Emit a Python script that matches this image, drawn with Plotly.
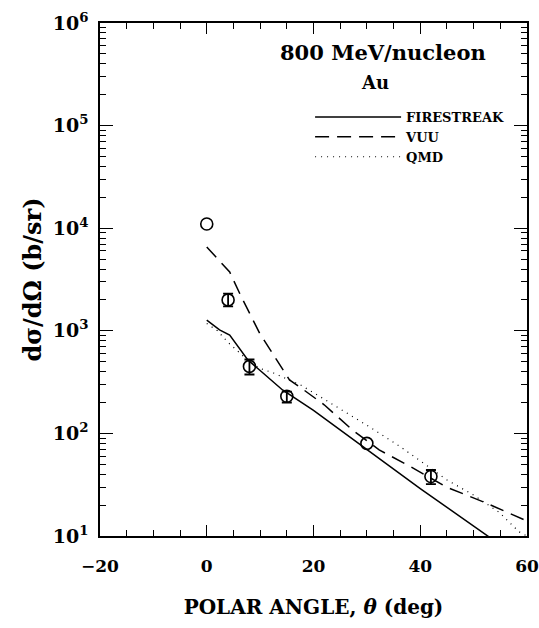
import plotly.graph_objects as go

# Data
angle = [0, 4, 8, 15, 30, 42]
xsec = [11000, 2000, 450, 230, 80, 38]
err_up = [None, 300, 75, 25, None, 6]
err_dn = [None, 270, 75, 30, None, 6]

fire_x = [0, 2.4, 4.3, 6, 7.7, 10, 14.2, 20, 30, 40, 53]
fire_y = [1270, 1020, 910, 690, 520, 410, 265, 168, 70, 29, 9.7]

vuu_x = [0, 4.3, 6.5, 9.9, 13.1, 15.5, 17.4, 22, 27.3, 32.3, 38, 44.9, 52.3, 58.5, 60]
vuu_y = [6570, 3740, 2130, 950, 520, 332, 284, 190, 108, 69, 48, 30, 21, 15.3, 14]

qmd_x = [0, 2, 4, 6.3, 8, 10, 12.5, 15, 17.6, 21.3, 26.4, 30, 36.3, 44.9, 50, 54.8, 58.5, 60]
qmd_y = [1180, 1000, 770, 600, 500, 430, 388, 340, 296, 227, 158, 120, 74, 35.5, 25, 17, 11, 10]

ytickvals = [10, 100, 1000, 1e4, 1e5, 1e6]
yticktext = ["<b>10<sup>1</sup></b>", "<b>10<sup>2</sup></b>", "<b>10<sup>3</sup></b>",
             "<b>10<sup>4</sup></b>", "<b>10<sup>5</sup></b>", "<b>10<sup>6</sup></b>"]
xtickvals = [-20, 0, 20, 40, 60]
xticktext = ["<b>\u221220</b>", "<b>0</b>", "<b>20</b>", "<b>40</b>", "<b>60</b>"]

FONT = "DejaVu Serif"

# split measured points into those with and without error bars
with_err = [i for i in range(len(angle)) if err_up[i] is not None]
no_err = [i for i in range(len(angle)) if err_up[i] is None]

marker_style = dict(symbol="circle-open", size=12, color="black",
                    line=dict(width=1.6, color="black"))

fig = go.Figure()
fig.add_trace(go.Scatter(x=fire_x, y=fire_y, mode="lines", name="<b>FIRESTREAK</b>",
                         line=dict(color="black", width=1.5, dash="solid")))
fig.add_trace(go.Scatter(x=vuu_x, y=vuu_y, mode="lines", name="<b>VUU</b>",
                         line=dict(color="black", width=1.5, dash="14px,8px")))
fig.add_trace(go.Scatter(x=qmd_x, y=qmd_y, mode="lines", name="<b>QMD</b>",
                         line=dict(color="black", width=1.2, dash="1px,5px")))
fig.add_trace(go.Scatter(x=[angle[i] for i in with_err], y=[xsec[i] for i in with_err],
                         mode="markers", showlegend=False, marker=marker_style,
                         error_y=dict(type="data",
                                      array=[err_up[i] for i in with_err],
                                      arrayminus=[err_dn[i] for i in with_err],
                                      color="black", thickness=1.8, width=5)))
fig.add_trace(go.Scatter(x=[angle[i] for i in no_err], y=[xsec[i] for i in no_err],
                         mode="markers", showlegend=False, marker=marker_style))

fig.add_annotation(x=33.1, y=5.717, text="<b>800 MeV/nucleon</b>", showarrow=False,
                   font=dict(family=FONT, size=21, color="black"))
fig.add_annotation(x=31.6, y=5.425, text="<b>Au</b>", showarrow=False,
                   font=dict(family=FONT, size=18, color="black"))

fig.update_xaxes(range=[-20, 60], tickvals=xtickvals, ticktext=xticktext,
                 ticks="inside", ticklen=11, tickwidth=1.2, tickcolor="black",
                 minor=dict(ticks="inside", dtick=5, ticklen=6, tickwidth=1.2, tickcolor="black"),
                 showline=True, linecolor="black", linewidth=1.5, mirror="allticks",
                 showgrid=False, zeroline=False, automargin=False, ticklabelstandoff=14,
                 tickfont=dict(family=FONT, size=17, color="black"),
                 title=dict(text="<b>POLAR ANGLE, <i>\u03b8</i> (deg)</b>", standoff=25,
                            font=dict(family=FONT, size=20, color="black")))
fig.update_yaxes(type="log", range=[1, 6], tickvals=ytickvals, ticktext=yticktext,
                 ticks="inside", ticklen=13, tickwidth=1.2, tickcolor="black",
                 minor=dict(ticks="inside", dtick="D1", ticklen=6, tickwidth=1.2, tickcolor="black"),
                 showline=True, linecolor="black", linewidth=1.5, mirror="allticks",
                 showgrid=False, zeroline=False, automargin=False, ticklabelstandoff=6,
                 tickfont=dict(family=FONT, size=19, color="black"),
                 title=dict(text="<b>d\u03c3/d\u03a9 (b/sr)</b>", standoff=4,
                            font=dict(family=FONT, size=24, color="black")))

fig.update_layout(width=539, height=628, paper_bgcolor="white", plot_bgcolor="white",
                  margin=dict(l=100, r=12, t=23, b=92, autoexpand=False),
                  showlegend=True,
                  legend=dict(x=0.492, y=0.846, xanchor="left", yanchor="top",
                              bgcolor="rgba(0,0,0,0)", itemwidth=86, tracegroupgap=0,
                              font=dict(family=FONT, size=13, color="black")))

fig.write_html("out.html", config={"displayModeBar": False},
               post_script="document.body.style.margin='0';document.body.style.overflow='hidden';")
